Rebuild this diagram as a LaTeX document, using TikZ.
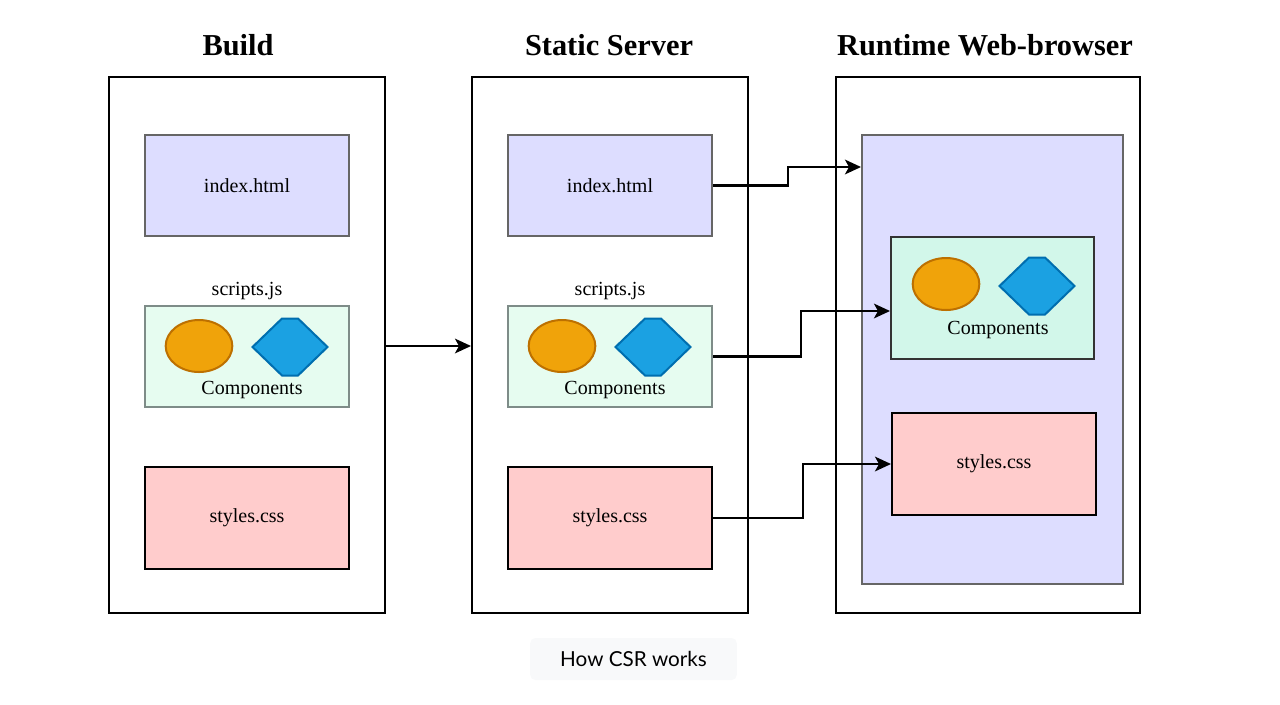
\documentclass[tikz,border=0pt]{standalone}
\usepackage{fontspec}
\setmainfont{Liberation Serif}
\newfontfamily\captionfont{Lato}
\usetikzlibrary{calc,shapes.geometric,arrows.meta}

\definecolor{pagebg}{HTML}{FFFFFF}
\definecolor{htmlfill}{HTML}{DDDDFF}
\definecolor{jsfill}{HTML}{E6FCF0}
\definecolor{compfill}{HTML}{D2F7EA}
\definecolor{cssfill}{HTML}{FFCCCC}
\definecolor{gbox}{HTML}{666666}
\definecolor{jsline}{HTML}{7E8C88}
\definecolor{ovalfill}{HTML}{F0A30A}
\definecolor{ovalline}{HTML}{BD7000}
\definecolor{hexfill}{HTML}{1BA1E2}
\definecolor{hexline}{HTML}{006EAF}
\definecolor{capbg}{HTML}{F8F9FA}

\begin{document}
\begin{tikzpicture}[x=0.75pt,y=-0.75pt,
  every node/.style={inner sep=0pt,font=\fontsize{15}{18}\selectfont},
  stage/.style={draw=black,line width=1.5pt,minimum width=207pt,minimum height=402pt},
  title/.style={font=\fontsize{22.8}{27}\selectfont\bfseries},
  file/.style={line width=1.5pt,minimum width=153pt,minimum height=76pt},
  htmlbox/.style={file,draw=gbox,fill=htmlfill},
  jsbox/.style={file,draw=jsline,fill=jsfill},
  cssbox/.style={file,draw=black,fill=cssfill},
  oval/.style={ellipse,draw=ovalline,fill=ovalfill,line width=1.5pt,minimum width=50pt,minimum height=39pt},
  hexa/.style={draw=hexline,fill=hexfill,line width=1.5pt,line join=miter},
  link/.style={-{Stealth[length=12pt,width=11pt,inset=3pt]},line width=1.7pt}]
  \useasboundingbox[fill=pagebg] (0,0) rectangle (1280,704);

  % titles
  \node[title] (build title) at (238,45) {Build};
  \node[title] (server title) at (609,45) {Static Server};
  \node[title] (runtime title) at (985,45) {Runtime Web-browser};

  % stages
  \node[stage] (build) at (247,345) {};
  \node[stage] (server) at (610,345) {};
  \node[stage,minimum width=228pt] (runtime) at (988,345) {};

  % build files
  \node[htmlbox] (build index) at (247,185.5) {index.html};
  \node[jsbox] (build scripts) at (247,356.5) {};
  \node (build scripts label) at (247,291) {scripts.js};
  \node (build comp) at (252,390) {Components};
  \node[cssbox] (build styles) at (247,518) {styles.css};

  % server files
  \node[htmlbox] (server index) at (610,185.5) {index.html};
  \node[jsbox] (server scripts) at (610,356.5) {};
  \node (server scripts label) at (610,291) {scripts.js};
  \node (server comp) at (615,390) {Components};
  \node[cssbox] (server styles) at (610,518) {styles.css};

  % browser page
  \node[draw=gbox,fill=htmlfill,line width=1.5pt,minimum width=195.75pt,minimum height=336.75pt] (page) at (992.5,359.5) {};
  \node[draw=black!80,fill=compfill,line width=1.5pt,minimum width=152.25pt,minimum height=91.5pt] (page comp) at (992.5,298) {};
  \node (page comp label) at (998,330) {Components};
  \node[cssbox] (page styles) at (994,464) {styles.css};

  % component shapes
  \node[oval] (build oval) at (199,346) {};
  \node[oval] (server oval) at (562,346) {};
  \node[oval] (page oval) at (946,284) {};
  \foreach \cx/\cy in {290/347, 653/347, 1037/286}
    \draw[hexa] (\cx-37.5,\cy) -- (\cx-8,\cy-28.5) -- (\cx+8,\cy-28.5) -- (\cx+37.5,\cy)
      -- (\cx+8,\cy+28.5) -- (\cx-8,\cy+28.5) -- cycle;

  % links
  \draw[link] (build.east |- 0,346) -- (server.west |- 0,346);
  \draw[link] (server index.east) -- ++(75,0) |- ($ (page.north west) + (0,33) $);
  \draw[link] (server scripts.east) -- ++(88,0) |- ($ (page comp.west) + (0,13) $);
  \draw[link] (server styles.east) -- ++(90,0) |- (page styles.west);

  % caption
  \node[fill=capbg,rounded corners=4pt,minimum width=155pt,minimum height=31.5pt,font=\captionfont\fontsize{15.5}{18}\selectfont] (caption) at (633.5,659) {How CSR works};
\end{tikzpicture}
\end{document}
